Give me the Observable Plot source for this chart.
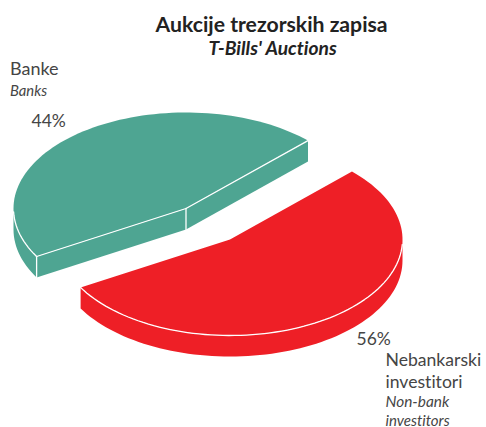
<!DOCTYPE html>
<html><head><meta charset="utf-8">
<script src="https://cdn.jsdelivr.net/npm/d3@7"></script>
<script src="https://cdn.jsdelivr.net/npm/@observablehq/plot@0.6"></script>
<style>html,body{margin:0;padding:0;background:#fff}svg{display:block}svg text{font-variant-ligatures:none}</style>
</head><body><div id="c"></div>
<script>
// Data
const titleSr = "Aukcije trezorskih zapisa";
const titleEn = "T-Bills' Auctions";
const categoriesSr = ["Banke", "Nebankarski", "investitori"];
const categoriesEn = ["Banks", "Non-bank", "investitors"];
const shares = [44, 56];
// Where the drawn slices actually cut the rim, in degrees (clockwise from 3 o'clock)
const cutTip = -45;
const cutLeft = 150;

// Layout
const W = 486, H = 427;
const rx = 172.5, ry = 96, depth = 21;
const centerRed = [229.5, 239], centerGreen = [185.5, 208];
const GREEN = "#4ea592", RED = "#ee1f26", INK = "#454545";
const FONT = "Lato, 'Open Sans', sans-serif";

function arc(c, a0, a1, drop = 0) {
  const n = Math.max(2, Math.ceil(Math.abs(a1 - a0) / 2));
  return d3.range(n + 1).map(i => {
    const t = (a0 + (a1 - a0) * i / n) * Math.PI / 180;
    return {x: c[0] + rx * Math.cos(t), y: c[1] + ry * Math.sin(t) + drop};
  });
}
const at = (c, drop = 0) => ({x: c[0], y: c[1] + drop});
const seg = (part, pts) => pts.map(p => ({...p, part}));

// Green slice: from cutLeft over the back to cutTip+360
const gTop = [at(centerGreen), ...arc(centerGreen, cutLeft, 360 + cutTip)];
const gRim = [...arc(centerGreen, cutLeft, 180), ...arc(centerGreen, 180, cutLeft, depth)];
const gFace1 = [at(centerGreen), arc(centerGreen, cutLeft, cutLeft)[0],
                arc(centerGreen, cutLeft, cutLeft, depth)[0], at(centerGreen, depth)];
const gFace2 = [at(centerGreen), arc(centerGreen, cutTip, cutTip)[0],
                arc(centerGreen, cutTip, cutTip, depth)[0], at(centerGreen, depth)];
// Red slice: from cutTip through the front to cutLeft
const rTop = [at(centerRed), ...arc(centerRed, cutTip, cutLeft)];
const rRim = [...arc(centerRed, 0, cutLeft), ...arc(centerRed, cutLeft, 0, depth)];

const fills = [
  ...seg("g1", gRim), ...seg("g2", gFace1), ...seg("g3", gFace2), ...seg("g4", gTop),
  ...seg("r1", rRim), ...seg("r2", rTop)
].map(d => ({...d, color: d.part[0] === "g" ? GREEN : RED}));

const whites = [
  ...seg("a", arc(centerGreen, cutLeft, 178)),
  ...seg("b", [arc(centerGreen, cutLeft, cutLeft)[0], at(centerGreen), arc(centerGreen, cutTip, cutTip)[0]]),
  ...seg("c", [at(centerGreen), at(centerGreen, depth)]),
  ...seg("d", [arc(centerGreen, cutLeft, cutLeft)[0], arc(centerGreen, cutLeft, cutLeft, depth)[0]]),
  ...seg("e", arc(centerRed, 3, cutLeft))
];

const label = (s, x, y, size, opts = {}) =>
  Plot.text([s], {text: d => d, frameAnchor: "top-left", lineAnchor: "bottom", textAnchor: "start",
    dx: x, dy: y, fontSize: size, fill: INK, fontFamily: FONT, ...opts});

const chart = Plot.plot({
  width: W, height: H, margin: 0,
  x: {domain: [0, W], range: [0, W], axis: null},
  y: {domain: [0, H], range: [0, H], axis: null},
  color: {type: "identity"},
  marks: [
    Plot.line(fills, {x: "x", y: "y", z: "part", fill: "color", stroke: null, curve: "linear"}),
    Plot.line(whites, {x: "x", y: "y", z: "part", stroke: "#fff", strokeWidth: 1.3, curve: "linear"}),
    label(titleSr, 155, 31, 21.2, {fontWeight: 700, fill: "#222"}),
    label(titleEn, 208, 54, 19.2, {fontWeight: 700, fontStyle: "italic", fill: "#222"}),
    label(categoriesSr[0], 9.5, 74, 18),
    label(categoriesEn[0], 9.5, 95, 14.8, {fontStyle: "italic"}),
    label(shares[0] + "%", 31, 126, 17.5),
    label(shares[1] + "%", 356, 344, 17.5),
    label(categoriesSr[1], 385, 365, 17.6),
    label(categoriesSr[2], 385, 387, 17.6),
    label(categoriesEn[1], 385, 406, 15.4, {fontStyle: "italic"}),
    label(categoriesEn[2], 385, 425, 15, {fontStyle: "italic"})
  ]
});
document.getElementById("c").append(chart);
</script></body></html>
